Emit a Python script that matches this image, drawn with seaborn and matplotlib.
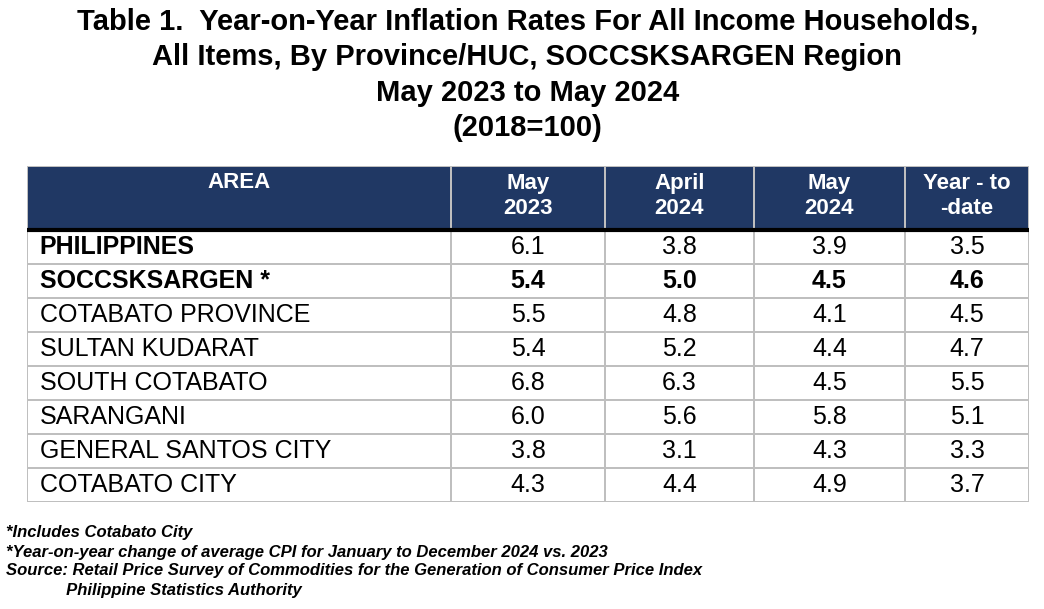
import numpy as np
import matplotlib
matplotlib.use("Agg")
import matplotlib.pyplot as plt
from matplotlib.colors import ListedColormap
import seaborn as sns

# Table content
col_headers = ["AREA", "May\n2023", "April\n2024", "May\n2024", "Year - to\n-date"]
areas = [
    "PHILIPPINES",
    "SOCCSKSARGEN *",
    "COTABATO PROVINCE",
    "SULTAN KUDARAT",
    "SOUTH COTABATO",
    "SARANGANI",
    "GENERAL SANTOS CITY",
    "COTABATO CITY",
]
may_2023 = [6.1, 5.4, 5.5, 5.4, 6.8, 6.0, 3.8, 4.3]
apr_2024 = [3.8, 5.0, 4.8, 5.2, 6.3, 5.6, 3.1, 4.4]
may_2024 = [3.9, 4.5, 4.1, 4.4, 4.5, 5.8, 4.3, 4.9]
ytd = [3.5, 4.6, 4.5, 4.7, 5.5, 5.1, 3.3, 3.7]

title_lines = [
    "Table 1.  Year-on-Year Inflation Rates For All Income Households,",
    "All Items, By Province/HUC, SOCCSKSARGEN Region",
    "May 2023 to May 2024",
    "(2018=100)",
]
notes = [
    "*Includes Cotabato City",
    "*Year-on-year change of average CPI for January to December 2024 vs. 2023",
    "Source: Retail Price Survey of Commodities for the Generation of Consumer Price Index",
    "             Philippine Statistics Authority",
]

NAVY = "#203864"
GRID = "#bfbfbf"

sns.set_style("white")
plt.rcParams["font.family"] = ["Liberation Sans", "DejaVu Sans"]
plt.rcParams["text.color"] = "black"

# cell grid: header row (1 = navy) + body rows (0 = white)
n_rows = len(areas)
fill = np.zeros((n_rows + 1, len(col_headers)))
fill[0, :] = 1
annot = np.empty(fill.shape, dtype=object)
annot[0, :] = col_headers
for i, row in enumerate(zip(areas, may_2023, apr_2024, may_2024, ytd)):
    annot[i + 1, 0] = row[0]
    annot[i + 1, 1:] = [f"{v:.1f}" for v in row[1:]]

fig = plt.figure(figsize=(10.44, 6.09), dpi=100)
ax = fig.add_axes([27 / 1044, 1 - 502 / 609, 1002 / 1044, 336 / 609])

sns.heatmap(fill, annot=annot, fmt="", cmap=ListedColormap(["white", NAVY]),
            vmin=0, vmax=1, cbar=False, linewidths=1.2, linecolor=GRID,
            xticklabels=False, yticklabels=False, ax=ax,
            annot_kws={"fontsize": 18})

# unequal column widths / row heights (pixels) via piecewise scales
col_px = np.cumsum([0, 424, 154, 149, 151, 124])
row_px = np.cumsum([0, 64] + [34] * n_rows)
col_idx = np.arange(len(col_px))
row_idx = np.arange(len(row_px))
ax.set_xscale("function", functions=(lambda x: np.interp(x, col_idx, col_px),
                                     lambda p: np.interp(p, col_px, col_idx)))
ax.set_yscale("function", functions=(lambda y: np.interp(y, row_idx, row_px),
                                     lambda p: np.interp(p, row_px, row_idx)))
ax.set_xlim(0, len(col_headers))
ax.set_ylim(n_rows + 1, 0)
ax.set_xticks([])
ax.set_yticks([])
for s in ax.spines.values():
    s.set_visible(False)

# style the cell texts
for t in ax.texts:
    x, y = t.get_position()
    col, row = int(x), int(y)
    if row == 0:
        t.set_color("white")
        t.set_fontweight("bold")
        t.set_fontsize(16)
        t.set_linespacing(1.2)
        t.set_y(0.25 if col == 0 else 0.47)
    else:
        t.set_color("black")
        if col == 0:
            t.set_x(0.03)
            t.set_ha("left")
            if row <= 2:
                t.set_fontweight("bold")
        elif row == 2:
            t.set_fontweight("bold")

ax.axhline(1, color="black", lw=3)

for k, line in enumerate(title_lines):
    fig.text(0.505, 1 - (22 + 35.3 * k) / 609, line, ha="center", va="center",
             fontsize=21, fontweight="bold")

for k, line in enumerate(notes):
    fig.text(6 / 1044, 1 - (533 + 19 * k) / 609, line, ha="left", va="center",
             fontsize=12, fontstyle="italic", fontweight="bold")

fig.savefig("out.png", dpi=100)
